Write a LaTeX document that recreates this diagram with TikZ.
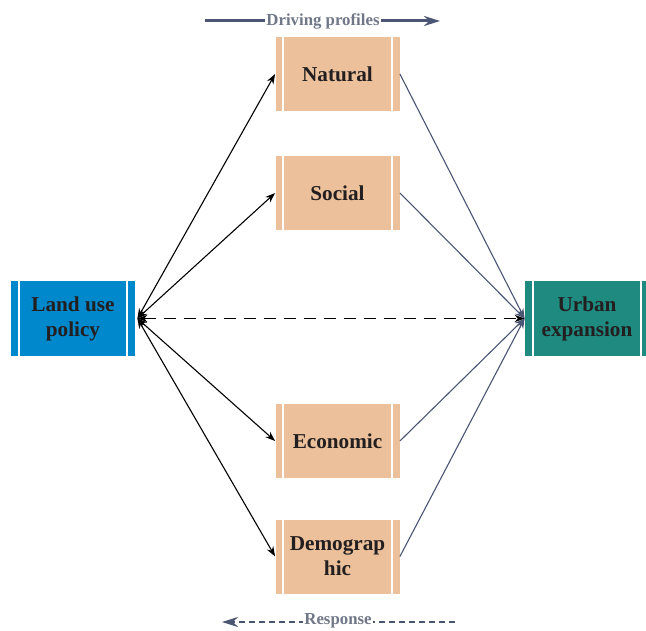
\documentclass[tikz,border=0pt]{standalone}
\usepackage{fontspec}
\setmainfont{Liberation Serif}
\usetikzlibrary{arrows.meta}
\definecolor{peach}{RGB}{235,192,154}
\definecolor{bluebox}{RGB}{0,136,204}
\definecolor{tealbox}{RGB}{31,138,128}
\definecolor{txt}{RGB}{35,31,32}
\definecolor{slate}{RGB}{75,86,117}
\definecolor{graytxt}{RGB}{112,120,136}
\tikzset{
  proc/.style={draw=none, minimum width=62pt, minimum height=37pt, inner sep=0pt, align=center,
    font=\fontsize{10.6}{12.5}\selectfont\bfseries, text=txt},
  factor/.style={proc, fill=peach},
  bar/.style={white, line width=1pt},
  both/.style={{Stealth[length=5pt,width=3.6pt]}-{Stealth[length=5pt,width=3.6pt]}, line width=0.55pt, black},
  toout/.style={-{Stealth[length=5pt,width=3.6pt]}, line width=0.55pt, slate},
  lbl/.style={font=\fontsize{8.4}{10}\selectfont\bfseries, text=graytxt, fill=white, inner sep=0.5pt}
}
\begin{document}
\begin{tikzpicture}[x=0.5pt,y=-0.5pt]
\useasboundingbox (0,0) rectangle (646,630);
\fill[white] (0,0) rectangle (646,630);
\begin{scope}
\clip (0,0) rectangle (646,630);
\node[factor] (nat) at (337.5,74) {Natural};
\node[factor] (soc) at (337.5,193) {Social};
\node[factor] (eco) at (337.5,441) {Economic};
\node[factor] (dem) at (337.5,556.5) {Demograp\\hic};
\node[proc, fill=bluebox, minimum width=62pt, minimum height=37.5pt] (land) at (73,318.5) {Land use\\policy};
\node[proc, fill=tealbox, minimum width=62pt, minimum height=37.5pt] (urb) at (587,318.5) {Urban\\expansion};
\foreach \n in {nat,soc,eco,dem,land,urb}{
  \draw[bar] ([xshift=4pt]\n.north west) -- ([xshift=4pt]\n.south west);
  \draw[bar] ([xshift=-4pt]\n.north east) -- ([xshift=-4pt]\n.south east);
}
\coordinate (lp) at ([xshift=1pt]land.east);
\coordinate (up) at (urb.west);
\foreach \n in {nat,soc,eco,dem}{
  \draw[both] (lp) -- (\n.west);
  \draw[toout] (\n.east) -- (up);
}
\draw[both, dashed, dash pattern=on 6pt off 4pt] (lp) -- (up);
% top legend
\coordinate (d1) at (205,21);
\coordinate (d2) at (440,21);
\draw[-{Stealth[length=8pt,width=5pt]}, slate, line width=1.5pt] (d1) -- (d2);
\node[lbl] (drv) at (323,21) {Driving profiles};
% bottom legend
\coordinate (r1) at (455,622);
\coordinate (r2) at (222,622);
\draw[-{Stealth[length=8pt,width=5pt]}, slate, line width=1.2pt, dash pattern=on 3pt off 2pt] (r1) -- (r2);
\node[lbl] (rsp) at (338,621) {Response};
\end{scope}
\end{tikzpicture}
\end{document}
